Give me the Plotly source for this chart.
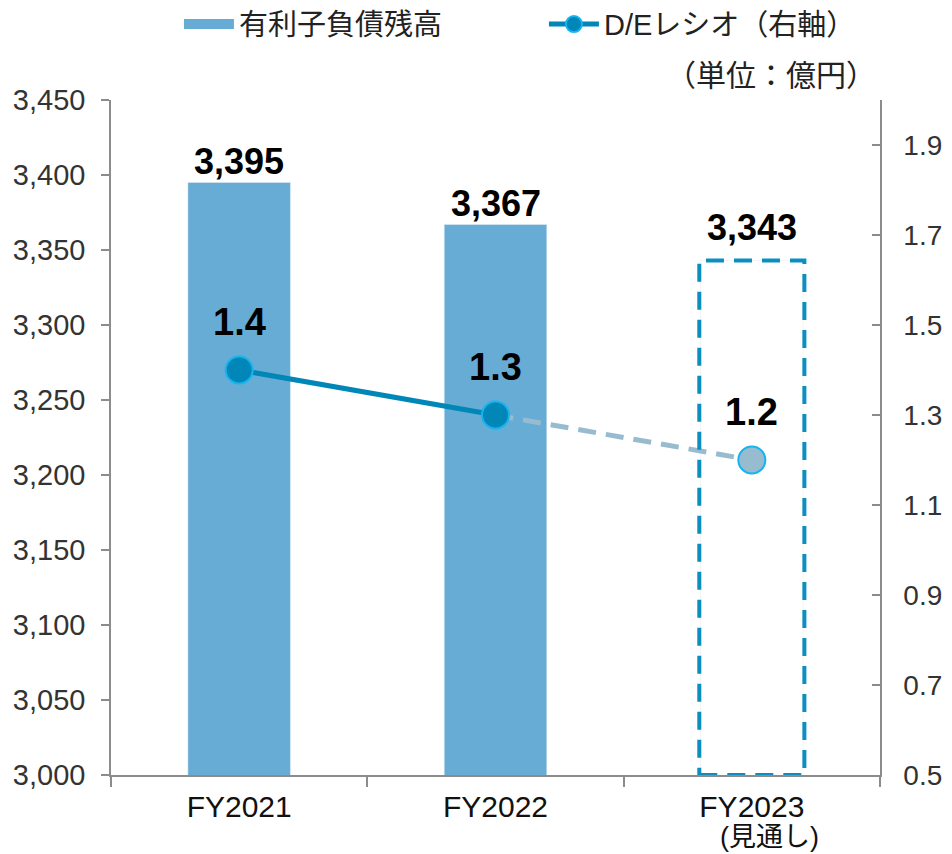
import plotly.graph_objects as go

categories = ["FY2021", "FY2022", "FY2023"]
tick_labels = ["FY2021", "FY2022", "FY2023"]
sub_labels = ["", "", "(見通し)"]
debt = [3395, 3367, 3343]
de_ratio = [1.4, 1.3, 1.2]
left_ticks = [3000, 3050, 3100, 3150, 3200, 3250, 3300, 3350, 3400, 3450]
right_ticks = [0.5, 0.7, 0.9, 1.1, 1.3, 1.5, 1.7, 1.9]

FONT = "Liberation Sans, Arial, Noto Sans CJK JP"
BAR_C = "#67acd5"
LINE_C = "#0087b7"
EDGE_C = "#16b4ef"
DASH_C = "#98bccf"
BOX_C = "#0a8fc0"
AXIS_C = "#8c8c8c"
BAR_LABEL_SHIFT = [21, 21, 33]

fig = go.Figure()

# actual bars (first two solid)
fig.add_trace(go.Bar(
    x=categories[:2], y=debt[:2], name="有利子負債残高", showlegend=False,
    marker=dict(color=BAR_C), width=0.4,
))
# forecast bar (transparent, outlined via shape)
fig.add_trace(go.Bar(
    x=categories[2:], y=debt[2:], showlegend=False,
    marker=dict(color="rgba(0,0,0,0)"), width=0.4,
))

# legend proxy for the bars (wide swatch)
fig.add_trace(go.Scatter(
    x=[None], y=[None], mode="lines", name="有利子負債残高",
    line=dict(color=BAR_C, width=12), showlegend=True, hoverinfo="skip",
))

# dashed forecast segment
fig.add_trace(go.Scatter(
    x=categories[1:], y=de_ratio[1:], yaxis="y2", mode="lines",
    line=dict(color=DASH_C, width=5, dash="18px,10px"), showlegend=False,
    hoverinfo="skip",
))
# solid actual segment
fig.add_trace(go.Scatter(
    x=categories[:2], y=de_ratio[:2], yaxis="y2", mode="lines+markers",
    name="D/Eレシオ（右軸）",
    line=dict(color=LINE_C, width=5),
    marker=dict(size=27, color=LINE_C, line=dict(color=EDGE_C, width=2)),
))
# forecast marker
fig.add_trace(go.Scatter(
    x=categories[2:], y=de_ratio[2:], yaxis="y2", mode="markers",
    marker=dict(size=27, color=DASH_C, line=dict(color=EDGE_C, width=2)),
    showlegend=False,
))

for c, v, s in zip(categories, debt, BAR_LABEL_SHIFT):
    fig.add_annotation(x=c, y=v, xref="x", yref="y", text=f"<b>{v:,}</b>",
                       showarrow=False, yanchor="middle", yshift=s,
                       font=dict(family=FONT, size=36, color="black"))

for c, v in zip(categories, de_ratio):
    fig.add_annotation(x=c, y=v, xref="x", yref="y2", text=f"<b>{v:.1f}</b>",
                       showarrow=False, yshift=48,
                       font=dict(family=FONT, size=38, color="black"))

for c, t in zip(categories, sub_labels):
    if t:
        fig.add_annotation(x=c, y=0, xref="x", yref="paper", text=t,
                           showarrow=False, yanchor="top", yshift=-45, xshift=18,
                           font=dict(family=FONT, size=27, color="#111111"))

# dashed outline for forecast bar
fig.add_shape(type="rect", xref="x", yref="y",
              x0=2 - 0.205, x1=2 + 0.205, y0=left_ticks[0], y1=debt[2],
              line=dict(color=BOX_C, width=4, dash="18px,10px"), layer="above")

fig.add_annotation(xref="paper", yref="paper", x=1.0, y=1.0, xanchor="right",
                   yanchor="bottom", yshift=6, xshift=-2,
                   text="（単位：億円）", showarrow=False,
                   font=dict(family=FONT, size=30, color="#222222"))

fig.update_layout(
    width=944, height=846,
    margin=dict(l=103, r=72, t=92, b=79, autoexpand=False),
    plot_bgcolor="white", paper_bgcolor="white",
    font=dict(family=FONT, size=28, color="#333333"),
    showlegend=True,
    legend=dict(orientation="h", x=0.563, xanchor="center", y=1.15, yanchor="top",
                entrywidth=300, entrywidthmode="pixels", itemwidth=50,
                font=dict(family=FONT, size=29, color="#222222"),
                traceorder="normal"),
    xaxis=dict(
        type="category",
        tickvals=categories, ticktext=tick_labels, tickson="boundaries",
        ticks="outside", ticklen=10, tickcolor=AXIS_C, tickwidth=1.5,
        showline=True, linecolor=AXIS_C, linewidth=1.5,
        ticklabelstandoff=4,
        tickfont=dict(family=FONT, size=30, color="#111111"),
        range=[-0.5, 2.5],
    ),
    yaxis=dict(
        range=[left_ticks[0], left_ticks[-1]], tickvals=left_ticks,
        tickformat=",", ticks="outside", ticklen=8, tickcolor=AXIS_C, tickwidth=1.5,
        showline=True, linecolor=AXIS_C, linewidth=1.5, showgrid=False,
        zeroline=False, ticklabelstandoff=10,
        tickfont=dict(family=FONT, size=29, color="#333333"),
    ),
    yaxis2=dict(
        overlaying="y", side="right", range=[0.5, 2.0], tickvals=right_ticks,
        tickformat=".1f", ticks="inside", ticklen=8, tickcolor=AXIS_C, tickwidth=1.5,
        showline=True, linecolor=AXIS_C, linewidth=1.5, showgrid=False,
        zeroline=False, ticklabelstandoff=16,
        tickfont=dict(family=FONT, size=28, color="#333333"),
    ),
)

fig.write_html("out.html")
